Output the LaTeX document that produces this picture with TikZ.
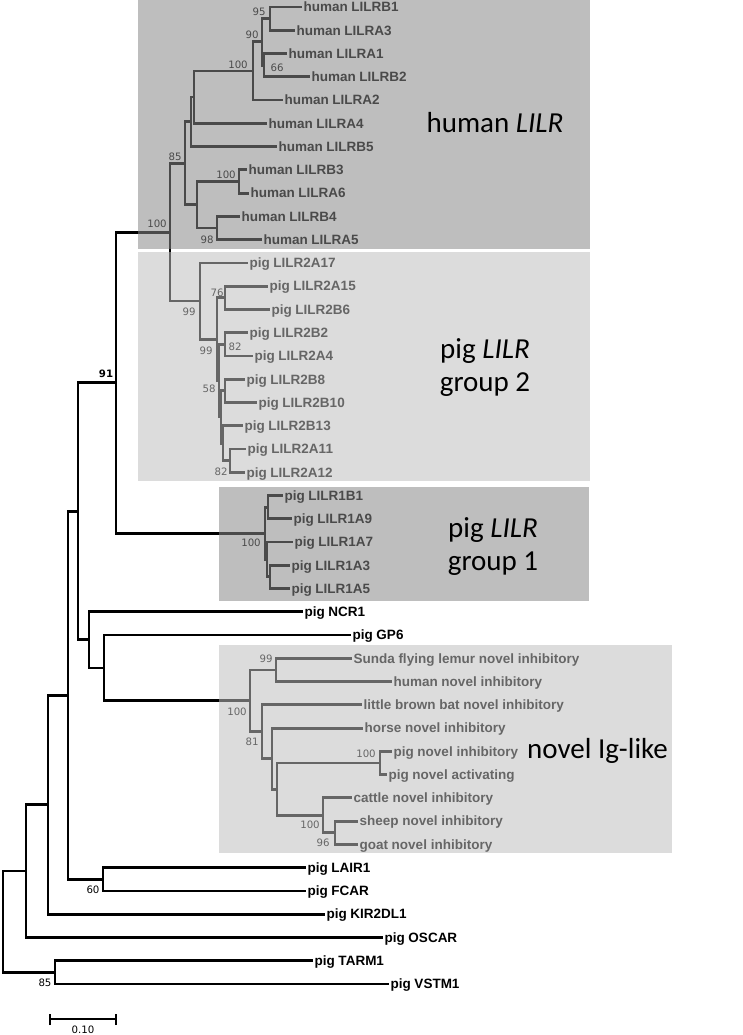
\documentclass[tikz,border=0pt]{standalone}
\usepackage{fontspec}
\newfontfamily\leaffont{Liberation Sans}
\newfontfamily\bootfont{DejaVu Sans}
\newfontfamily\bigfont{Carlito}
\definecolor{boxdark}{RGB}{136,136,136}
\definecolor{boxlight}{RGB}{190,190,190}
\tikzset{
  br/.style={line width=2.8pt, black},
  leaf/.style={anchor=west, inner sep=1.3pt, font=\leaffont\bfseries\fontsize{13.5}{15}\selectfont, text height=9.6pt, text depth=0pt},
  boot/.style={inner sep=0pt, font=\bootfont\fontsize{10.2}{12}\selectfont, text height=7.4pt, text depth=0pt},
  darkbox/.style={fill=boxdark, fill opacity=0.545},
  lightbox/.style={fill=boxlight, fill opacity=0.537},
  biglab/.style={anchor=base, inner sep=0pt, font=\bigfont\fontsize{29}{34}\selectfont},
}
\begin{document}
\begin{tikzpicture}[x=1pt,y=-1pt]
\useasboundingbox (0,0) rectangle (742,1035);
% internal nodes
\coordinate (root) at (3,921.7);
\coordinate (o26) at (26,871.05);
\coordinate (o55) at (55,972.3);
\coordinate (o48) at (48,804.7);
\coordinate (o68) at (68,695.3);
\coordinate (o78) at (78,511.3);
\coordinate (o103) at (103,879.25);
\coordinate (o89) at (89,639.85);
\coordinate (o104) at (104,667.9);
\coordinate (n91) at (116,382.7);
\coordinate (hroot) at (170,232.2);
\coordinate (hC) at (185,163.3);
\coordinate (hB) at (191,121.9);
\coordinate (hA) at (194,97.1);
\coordinate (h100a) at (253,70.95);
\coordinate (h90) at (262,41.9);
\coordinate (h95) at (270,18.65);
\coordinate (h66) at (264,65.15);
\coordinate (hD) at (197,204.7);
\coordinate (h100b) at (239,181.45);
\coordinate (h98) at (217,227.95);
\coordinate (g99a) at (200,301.05);
\coordinate (gF) at (217,339.2);
\coordinate (g76) at (225,297.75);
\coordinate (gG) at (219,380.6);
\coordinate (g82a) at (225,344.25);
\coordinate (gH) at (221,416.95);
\coordinate (gI) at (225,390.8);
\coordinate (gJ) at (223,443.1);
\coordinate (g82b) at (230,460.55);
\coordinate (p1root) at (265,533.25);
\coordinate (p1P) at (268,507.1);
\coordinate (p1R) at (267,559.4);
\coordinate (p1Q) at (270,576.85);
\coordinate (nroot) at (250,700.8);
\coordinate (n99) at (276,669.9);
\coordinate (n81) at (262,731.7);
\coordinate (nK) at (272,758.6);
\coordinate (nL) at (277,789.1);
\coordinate (n100p) at (380,762.95);
\coordinate (n100c) at (323,815.3);
\coordinate (n96) at (335,832.75);
% leaves
\node[leaf] (hB1) at (302,7.0) {human LILRB1};
\node[leaf] (hA3) at (295,30.3) {human LILRA3};
\node[leaf] (hA1) at (287,53.5) {human LILRA1};
\node[leaf] (hB2) at (310,76.8) {human LILRB2};
\node[leaf] (hA2) at (283,100.0) {human LILRA2};
\node[leaf] (hA4) at (267,123.3) {human LILRA4};
\node[leaf] (hB5) at (277,146.6) {human LILRB5};
\node[leaf] (hB3) at (247,169.8) {human LILRB3};
\node[leaf] (hA6) at (249,193.1) {human LILRA6};
\node[leaf] (hB4) at (240,216.3) {human LILRB4};
\node[leaf] (hA5) at (262,239.6) {human LILRA5};
\node[leaf] (gA17) at (248,262.9) {pig LILR2A17};
\node[leaf] (gA15) at (268,286.1) {pig LILR2A15};
\node[leaf] (gB6) at (270,309.4) {pig LILR2B6};
\node[leaf] (gB2) at (248,332.6) {pig LILR2B2};
\node[leaf] (gA4) at (253,355.9) {pig LILR2A4};
\node[leaf] (gB8) at (245,379.2) {pig LILR2B8};
\node[leaf] (gB10) at (257,402.4) {pig LILR2B10};
\node[leaf] (gB13) at (243,425.7) {pig LILR2B13};
\node[leaf] (gA11) at (246,448.9) {pig LILR2A11};
\node[leaf] (gA12) at (245,472.2) {pig LILR2A12};
\node[leaf] (pB1) at (283,495.5) {pig LILR1B1};
\node[leaf] (pA9) at (292,518.7) {pig LILR1A9};
\node[leaf] (pA7) at (293,542.0) {pig LILR1A7};
\node[leaf] (pA3) at (290,565.2) {pig LILR1A3};
\node[leaf] (pA5) at (290,588.5) {pig LILR1A5};
\node[leaf] (NCR1) at (303,611.8) {pig NCR1};
\node[leaf] (GP6) at (351,635.0) {pig GP6};
\node[leaf] (sunda) at (352,658.3) {Sunda flying lemur novel inhibitory};
\node[leaf] (humnov) at (392,681.5) {human novel inhibitory};
\node[leaf] (bat) at (362,704.8) {little brown bat novel inhibitory};
\node[leaf] (horse) at (363,728.1) {horse novel inhibitory};
\node[leaf] (pignovi) at (392,751.3) {pig novel inhibitory};
\node[leaf] (pignova) at (387,774.6) {pig novel activating};
\node[leaf] (cattle) at (352,797.8) {cattle novel inhibitory};
\node[leaf] (sheep) at (358,821.1) {sheep novel inhibitory};
\node[leaf] (goat) at (358,844.4) {goat novel inhibitory};
\node[leaf] (LAIR1) at (306,867.6) {pig LAIR1};
\node[leaf] (FCAR) at (306,890.9) {pig FCAR};
\node[leaf] (KIR) at (325,914.1) {pig KIR2DL1};
\node[leaf] (OSCAR) at (383,937.4) {pig OSCAR};
\node[leaf] (TARM1) at (313,960.7) {pig TARM1};
\node[leaf] (VSTM1) at (389,983.9) {pig VSTM1};
% branches to internal nodes
\foreach \p/\c in {root/o26, root/o55, o26/o48, o48/o68, o68/o78, o68/o103,
  o78/n91, o78/o89, o89/o104, o104/nroot, n91/hroot, n91/p1root,
  hroot/hC, hroot/g99a, hC/hB, hC/hD, hB/hA, hA/h100a, h100a/h90, h90/h95, h90/h66,
  hD/h100b, hD/h98, g99a/gF, gF/g76, gF/gG, gG/g82a, gG/gH, gH/gI, gH/gJ, gJ/g82b,
  p1root/p1P, p1root/p1R, p1R/p1Q, nroot/n99, nroot/n81, n81/nK, nK/nL,
  nL/n100p, nL/n100c, n100c/n96}
  \draw[br] (\p) |- (\c);
% branches to leaves
\foreach \p/\c in {o26/OSCAR, o48/KIR, o103/LAIR1, o103/FCAR, o89/NCR1, o104/GP6,
  o55/TARM1, o55/VSTM1, hB/hB5, hA/hA4, h100a/hA2, h95/hB1, h95/hA3, h66/hA1, h66/hB2,
  h100b/hB3, h100b/hA6, h98/hB4, h98/hA5, g99a/gA17, g76/gA15, g76/gB6, g82a/gB2, g82a/gA4,
  gI/gB8, gI/gB10, gJ/gB13, g82b/gA11, g82b/gA12, p1P/pB1, p1P/pA9, p1R/pA7, p1Q/pA3, p1Q/pA5,
  n99/sunda, n99/humnov, n81/bat, nK/horse, n100p/pignovi, n100p/pignova,
  n100c/cattle, n96/sheep, n96/goat}
  \draw[br] (\p) |- (\c.west);
% bootstrap values
\node[boot] (b1) at (259,12) {95};
\node[boot] (b2) at (252,35) {90};
\node[boot] (b3) at (238,65) {100};
\node[boot] (b4) at (277,68) {66};
\node[boot] (b5) at (175,157) {85};
\node[boot] (b6) at (226,175) {100};
\node[boot] (b7) at (157,224) {100};
\node[boot] (b8) at (207,240) {98};
\node[boot] (b9) at (189,312) {99};
\node[boot] (b10) at (217,293) {76};
\node[boot] (b11) at (206,351) {99};
\node[boot] (b12) at (235,347) {82};
\node[boot] (b13) at (209,389) {58};
\node[boot] (b14) at (221,472) {82};
\node[boot,font=\bootfont\bfseries\fontsize{10.2}{12}\selectfont] (b15) at (106,374) {91};
\node[boot] (b16) at (251,543) {100};
\node[boot] (b17) at (266,659) {99};
\node[boot] (b18) at (237,712) {100};
\node[boot] (b19) at (252,742) {81};
\node[boot] (b20) at (366,754) {100};
\node[boot] (b21) at (310,825) {100};
\node[boot] (b22) at (323,843) {96};
\node[boot] (b23) at (93,890) {60};
\node[boot] (b24) at (45,983) {85};
% scale bar
\coordinate (sbL) at (50,1019);
\coordinate (sbR) at (116,1019);
\draw[line width=2.2pt] (sbL) -- (sbR);
\draw[line width=2.2pt] ([yshift=-6]sbL) -- ([yshift=5]sbL);
\draw[line width=2.2pt] ([yshift=-6]sbR) -- ([yshift=5]sbR);
\node[boot] (sblab) at (83,1030) {0.10};
% clade boxes (translucent overlays)
\fill[darkbox] (138,0) rectangle (590,249);
\fill[lightbox] (138,252) rectangle (590,481);
\fill[darkbox] (219,487) rectangle (589,601);
\fill[lightbox] (219,645) rectangle (672,853);
% clade labels
\node[biglab] (Lhuman) at (495,133) {human \textit{LILR}};
\node[biglab] (Lg2a) at (485,358) {pig \textit{LILR}};
\node[biglab] (Lg2b) at (485,391) {group 2};
\node[biglab] (Lg1a) at (493,537) {pig \textit{LILR}};
\node[biglab] (Lg1b) at (493,570) {group 1};
\node[biglab,anchor=base west] (Lnov) at (527,758) {novel Ig-like};
\end{tikzpicture}
\end{document}
